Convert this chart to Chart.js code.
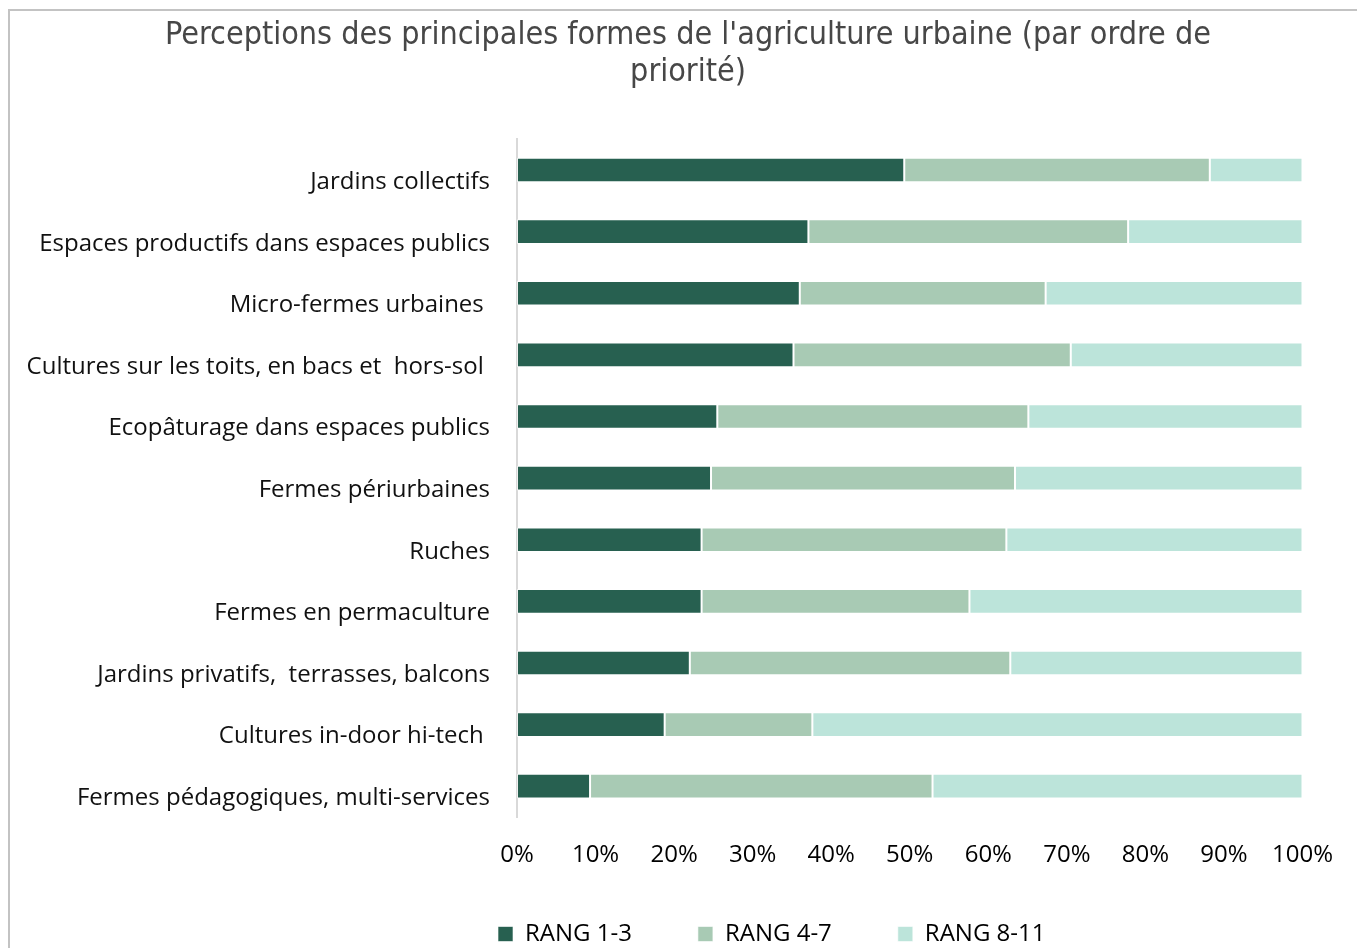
<!DOCTYPE html>
<html>
<head>
<meta charset="utf-8">
<script src="https://cdn.jsdelivr.net/npm/chart.js@4.4.1/dist/chart.umd.min.js"></script>
<style>
  html, body { margin:0; padding:0; background:#fff; overflow:hidden; }
  #frame { position:absolute; left:8px; top:9px; width:1400px; height:1000px; border:2px solid #c3c3c3; box-sizing:border-box; }
  #wrap { position:absolute; left:0; top:0; width:1357px; height:956px; }
</style>
</head>
<body>
<div id="frame"></div>
<div id="wrap"><canvas id="chart"></canvas></div>
<script>
// categories (top to bottom)
const categories = [
  "Jardins collectifs",
  "Espaces productifs dans espaces publics",
  "Micro-fermes urbaines ",
  "Cultures sur les toits, en bacs et  hors-sol ",
  "Ecopâturage dans espaces publics",
  "Fermes périurbaines",
  "Ruches",
  "Fermes en permaculture",
  "Jardins privatifs,  terrasses, balcons",
  "Cultures in-door hi-tech ",
  "Fermes pédagogiques, multi-services"
];

// parts in % per rank group
const rang13 = [49.3, 37.1, 36.0, 35.2, 25.5, 24.7, 23.5, 23.5, 22.0, 18.8, 9.3];
const rang47 = [38.9, 40.7, 31.3, 35.3, 39.6, 38.7, 38.8, 34.1, 40.8, 18.8, 43.6];
const rang811 = [11.8, 22.2, 32.7, 29.5, 34.9, 36.6, 37.7, 42.4, 37.2, 62.4, 47.1];

const seriesNames = ["RANG 1-3", "RANG 4-7", "RANG 8-11"];
const colors = ["#276050", "#a8cab4", "#bce4da"];

const txtFont = "'Open Sans', Lato, sans-serif";

// move the legend row so it starts where the reference one does
const legendShift = {
  id: "legendShift",
  beforeDraw(chart){
    const lg = chart.legend;
    if(!lg || !lg.legendHitBoxes || !lg.legendHitBoxes.length) return;
    const dx = 498 - lg.legendHitBoxes[0].left;
    if(!dx) return;
    lg.left += dx;
    lg.right += dx;
    lg.legendHitBoxes.forEach(h => h.left += dx);
  }
};

// tick labels may overflow their scale box (no clipping)
function noLabelClip(s){ s._computeLabelArea = () => undefined; }

const ctx = document.getElementById("chart").getContext("2d");

function mkDataset(i, values){
  return {
    label: seriesNames[i],
    data: values,
    backgroundColor: colors[i],
    borderColor: "rgba(255,255,255,0.6)",
    borderWidth: 1,
    borderSkipped: false,
    categoryPercentage: 1,
    barPercentage: 0.4
  };
}

new Chart(ctx, {
  type: "bar",
  data: {
    labels: categories,
    datasets: [
      mkDataset(0, rang13),
      mkDataset(1, rang47),
      mkDataset(2, rang811)
    ]
  },
  plugins: [legendShift],
  options: {
    indexAxis: "y",
    responsive: true,
    maintainAspectRatio: false,
    animation: false,
    layout: { padding: { left: 72, right: 53, top: 0, bottom: 0 } },
    plugins: {
      title: {
        display: true,
        text: ["Perceptions des principales formes de l'agriculture urbaine (par ordre de", "priorité)"],
        color: "#474747",
        font: { family: "'DejaVu Sans Condensed', 'DejaVu Sans'", size: 32, weight: "normal", lineHeight: 1.16 },
        padding: { top: 17, bottom: 48 }
      },
      legend: {
        position: "bottom",
        labels: {
          color: "#000",
          font: { family: txtFont, size: 24 },
          boxWidth: 15,
          boxHeight: 15,
          padding: 66
        }
      },
      tooltip: { enabled: false }
    },
    scales: {
      x: {
        stacked: true,
        min: 0,
        max: 100,
        grid: { display: false, drawTicks: false },
        border: { display: false },
        ticks: {
          stepSize: 10,
          color: "#000",
          padding: 24,
          font: { family: txtFont, size: 24 },
          callback: v => v + "%"
        },
        afterFit: s => { s.height = 39; noLabelClip(s); }
      },
      y: {
        stacked: true,
        grid: { display: false, drawTicks: false },
        border: { display: true, color: "#d9d9d9", width: 2 },
        ticks: {
          color: "#111",
          padding: 27,
          labelOffset: 12,
          font: { family: txtFont, size: 24 }
        },
        afterFit: s => { s.width = 445; noLabelClip(s); }
      }
    }
  }
});
</script>
</body>
</html>
